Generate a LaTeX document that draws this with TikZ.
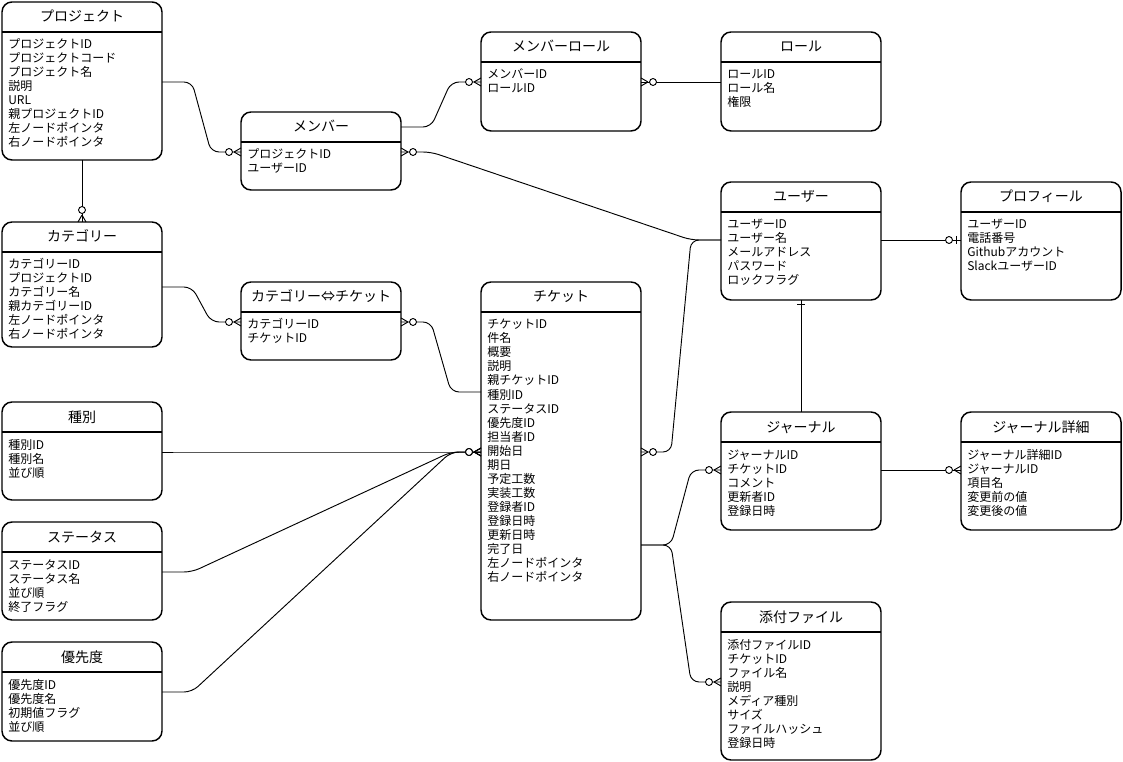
\documentclass[tikz,border=0pt]{standalone}
\usepackage{fontspec}
\setmainfont{Noto Sans CJK JP}
\usetikzlibrary{calc}

% crow's foot ends
\pgfdeclarearrow{
  name = zmany,
  setup code = {
    \pgfarrowssettipend{0pt}
    \pgfarrowssetlineend{0pt}
    \pgfarrowssetbackend{-12pt}
    \pgfarrowssetvisualbackend{-12pt}
  },
  drawing code = {
    \pgfpathmoveto{\pgfpoint{-5.25pt}{0pt}}
    \pgfpathlineto{\pgfpoint{0pt}{3pt}}
    \pgfpathmoveto{\pgfpoint{-5.25pt}{0pt}}
    \pgfpathlineto{\pgfpoint{0pt}{-3pt}}
    \pgfusepathqstroke
    \pgfpathcircle{\pgfpoint{-9pt}{0pt}}{2.6pt}
    \pgfsetfillcolor{white}
    \pgfusepathqfillstroke
  }
}
\pgfdeclarearrow{
  name = zone,
  setup code = {
    \pgfarrowssettipend{0pt}
    \pgfarrowssetlineend{0pt}
    \pgfarrowssetbackend{-12pt}
    \pgfarrowssetvisualbackend{-12pt}
  },
  drawing code = {
    \pgfpathmoveto{\pgfpoint{-3.75pt}{3pt}}
    \pgfpathlineto{\pgfpoint{-3.75pt}{-3pt}}
    \pgfusepathqstroke
    \pgfpathcircle{\pgfpoint{-9pt}{0pt}}{2.6pt}
    \pgfsetfillcolor{white}
    \pgfusepathqfillstroke
  }
}
\pgfdeclarearrow{
  name = one,
  setup code = {
    \pgfarrowssettipend{0pt}
    \pgfarrowssetlineend{0pt}
    \pgfarrowssetbackend{-4pt}
    \pgfarrowssetvisualbackend{-4pt}
  },
  drawing code = {
    \pgfpathmoveto{\pgfpoint{-3pt}{3pt}}
    \pgfpathlineto{\pgfpoint{-3pt}{-3pt}}
    \pgfusepathqstroke
  }
}

\tikzset{
  entity/.style={draw, line width=1.1pt, rounded corners=7.5pt, minimum width=120pt, inner sep=0pt, outer sep=0pt},
  entity line/.style={line width=1.1pt},
  enttitle/.style={inner sep=0pt, font=\fontsize{10.5}{12}\selectfont},
  entrow/.style={inner sep=0pt, font=\fontsize{9}{10.5}\selectfont},
  rel/.style={line width=0.7pt, rounded corners=6pt},
}

% name, x, y, height, title, rows
\newcommand{\entity}[6]{%
  \node[entity, minimum height=#4*0.75pt, anchor=north west] (#1) at (#2,#3) {};
  \node[enttitle, anchor=base] (#1-t) at ($(#1.north)+(0,20)$) {#5};
  \draw[entity line] ($(#1.north west)+(0,30)$) -- ($(#1.north east)+(0,30)$);
  \foreach \r [count=\i] in {#6}
    \node[entrow, anchor=base west] (#1-\i) at ($(#1.north west)+(6,33+14*\i)$) {\r};
}

\begin{document}
\begin{tikzpicture}[x=0.75pt, y=-0.75pt]
  \useasboundingbox (0,0) rectangle (1123,762);

  % tables
  \entity{proj}{2}{2}{158}{プロジェクト}{プロジェクトID, プロジェクトコード, プロジェクト名, 説明, URL, 親プロジェクトID, 左ノードポインタ, 右ノードポインタ}
  \entity{memb}{241}{112}{78}{メンバー}{プロジェクトID, ユーザーID}
  \entity{mrole}{481}{32}{99}{メンバーロール}{メンバーID, ロールID}
  \entity{role}{721}{32}{99}{ロール}{ロールID, ロール名, 権限}
  \entity{user}{721}{182}{118}{ユーザー}{ユーザーID, ユーザー名, メールアドレス, パスワード, ロックフラグ}
  \entity{prof}{961}{182}{118}{プロフィール}{ユーザーID, 電話番号, Githubアカウント, SlackユーザーID}
  \entity{cat}{2}{222}{125}{カテゴリー}{カテゴリーID, プロジェクトID, カテゴリー名, 親カテゴリーID, 左ノードポインタ, 右ノードポインタ}
  \entity{catticket}{241}{282}{78}{カテゴリー⇔チケット}{カテゴリーID, チケットID}
  \entity{ticket}{481}{282}{338}{チケット}{チケットID, 件名, 概要, 説明, 親チケットID, 種別ID, ステータスID, 優先度ID, 担当者ID, 開始日, 期日, 予定工数, 実装工数, 登録者ID, 登録日時, 更新日時, 完了日, 左ノードポインタ, 右ノードポインタ}
  \entity{kind}{2}{402}{98}{種別}{種別ID, 種別名, 並び順}
  \entity{status}{2}{522}{98}{ステータス}{ステータスID, ステータス名, 並び順, 終了フラグ}
  \entity{prio}{2}{642}{99}{優先度}{優先度ID, 優先度名, 初期値フラグ, 並び順}
  \entity{journal}{721}{412}{118}{ジャーナル}{ジャーナルID, チケットID, コメント, 更新者ID, 登録日時}
  \entity{jdetail}{961}{412}{118}{ジャーナル詳細}{ジャーナル詳細ID, ジャーナルID, 項目名, 変更前の値, 変更後の値}
  \entity{attach}{721}{602}{158}{添付ファイル}{添付ファイルID, チケットID, ファイル名, 説明, メディア種別, サイズ, ファイルハッシュ, 登録日時}

  % relations
  \draw[rel, -zmany] ($(proj.north east)+(0,80)$) -- ++(30,0) -- ($(memb.north west)+(-30,40)$) -- ++(30,0);
  \draw[rel, -zmany] ($(memb.north east)+(0,15)$) -- ++(30,0) -- ($(mrole.north west)+(-30,50)$) -- ++(30,0);
  \draw[rel, zmany-] ($(mrole.north east)+(0,50)$) -- ($(role.north west)+(0,50)$);
  \draw[rel, zmany-] ($(memb.north east)+(0,40)$) -- ++(30,0) -- ($(user.north west)+(-30,58)$) -- ++(30,0);
  \draw[rel, -zmany] (proj.south) -- (cat.north);
  \draw[rel, -zmany] ($(cat.north east)+(0,65)$) -- ++(30,0) -- ($(catticket.north west)+(-30,40)$) -- ++(30,0);
  \draw[rel, zmany-] ($(catticket.north east)+(0,40)$) -- ++(30,0) -- ($(ticket.north west)+(-30,110)$) -- ++(30,0);
  \draw[rel, -zmany] ($(kind.north east)+(0,50)$) -- ++(30,0) -- ($(ticket.north west)+(-30,170)$) -- ++(30,0);
  \draw[rel, -zmany] ($(status.north east)+(0,50)$) -- ++(30,0) -- ($(ticket.north west)+(-30,170)$) -- ++(30,0);
  \draw[rel, -zmany] ($(prio.north east)+(0,50)$) -- ++(30,0) -- ($(ticket.north west)+(-30,170)$) -- ++(30,0);
  \draw[rel, zmany-] ($(ticket.north east)+(0,170)$) -- ++(30,0) -- ($(user.north west)+(-30,58)$) -- ++(30,0);
  \draw[rel, -zone] ($(user.north east)+(0,58)$) -- ($(prof.north west)+(0,58)$);
  \draw[rel, one-] (user.south) -- (journal.north);
  \draw[rel, -zmany] ($(ticket.north east)+(0,263)$) -- ++(30,0) -- ($(journal.north west)+(-30,58)$) -- ++(30,0);
  \draw[rel, -zmany] ($(ticket.north east)+(0,263)$) -- ++(30,0) -- ($(attach.north west)+(-30,80)$) -- ++(30,0);
  \draw[rel, -zmany] ($(journal.north east)+(0,58)$) -- ($(jdetail.north west)+(0,58)$);
\end{tikzpicture}
\end{document}
